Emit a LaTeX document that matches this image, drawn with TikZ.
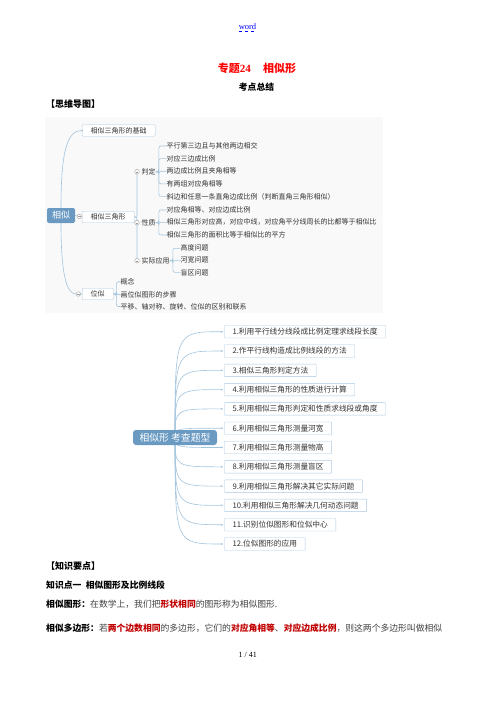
\documentclass[tikz,border=0pt]{standalone}
\usepackage{fontspec}
\setmainfont{Liberation Serif}
\newfontfamily\cjk{Noto Sans CJK SC}
\usetikzlibrary{backgrounds}

\definecolor{mapline}{HTML}{A3C4DD}
\definecolor{boxline}{HTML}{A9C8E2}
\definecolor{rootfill}{HTML}{6A9AC2}
\definecolor{maptext}{HTML}{333333}
\definecolor{foldc}{HTML}{A0A0A0}
\definecolor{mapbg}{HTML}{F9F9F9}
\definecolor{bodygray}{HTML}{404040}
\definecolor{darkred}{HTML}{C00000}

\tikzset{
  every node/.style={inner sep=0pt},
  link/.style={draw=mapline, line width=0.6pt},
  rootbox/.style={fill=rootfill, text=white, rounded corners=2pt,
    minimum height=15pt, font=\cjk\fontsize{9}{9}\selectfont},
  topic/.style={draw=boxline, fill=white, rounded corners=1pt, anchor=west,
    text=maptext, minimum height=11.5pt, inner xsep=8.5pt,
    font=\cjk\fontsize{7}{7}\selectfont},
  leaf/.style={anchor=west, text=maptext, font=\cjk\fontsize{7}{7}\selectfont},
  fold/.style={circle, draw=foldc, fill=white, minimum size=4.6pt,
    path picture={\draw[foldc, line width=0.4pt]
      ([xshift=1pt]path picture bounding box.west) --
      ([xshift=-1pt]path picture bounding box.east);}},
  qtype/.style={draw=boxline, fill=white, rounded corners=0.5pt, anchor=west,
    text=maptext, minimum height=12.5pt, inner xsep=8pt,
    font=\cjk\fontsize{7.7}{7.7}\selectfont},
  body/.style={anchor=west, font=\cjk\fontsize{8.8}{8.8}\selectfont}
}

\begin{document}
\begin{tikzpicture}[x=1pt, y=-1pt]
  \useasboundingbox (0,0) rectangle (496,702);

  % header
  \node[text=blue, font=\fontsize{8.5}{8.5}\selectfont] (wd) at (247.5,27) {word};
  \draw[blue, dashed, line width=0.5pt] ([yshift=-1.5pt]wd.south west) -- ([yshift=-1.5pt]wd.south east);
  \node[text=red, font=\cjk\bfseries\fontsize{11}{11}\selectfont] (zt) at (257,68)
    {专题{\rmfamily\bfseries 24}\hspace{1.1em}相似形};
  \node[font=\cjk\bfseries\fontsize{8.8}{8.8}\selectfont] (kd) at (256.5,87.5) {考点总结};
  \node[body, font=\cjk\bfseries\fontsize{9}{9}\selectfont] (sw) at (46,104) {【思维导图】};

  % mind map 1
  \node[rootbox, minimum width=28pt] (xs) at (61,215.5) {相似};
  \node[topic] (jc) at (82,130.5) {相似三角形的基础};
  \node[topic] (sjx) at (82,217) {相似三角形};
  \node[topic] (ws) at (82,294) {位似};

  \node[fold] (f1) at (79.3,216.5) {};
  \node[fold] (f2) at (78.3,294) {};
  \node[fold] (fpd) at (137,171.7) {};
  \node[fold] (fxz) at (137,222.7) {};
  \node[fold] (fsy) at (137,260.7) {};

  \node[leaf] (pd) at (141.5,171.7) {判定};
  \node[leaf] (xz) at (141.5,222.7) {性质};
  \node[leaf] (sy) at (141.5,260.7) {实际应用};

  \foreach \t [count=\i] in {平行第三边且与其他两边相交, 对应三边成比例,
      两边成比例且夹角相等, 有两组对应角相等,
      斜边和任意一条直角边成比例（判断直角三角形相似）}
    \node[leaf] (pd\i) at (166.5,{146+12.6*(\i-1)}) {\t};
  \node[leaf] (xz1) at (166.5,210) {对应角相等、对应边成比例};
  \node[leaf] (xz2) at (166.5,222.3) {相似三角形对应高，对应中线，对应角平分线周长的比都等于相似比};
  \node[leaf] (xz3) at (166.5,235) {相似三角形的面积比等于相似比的平方};
  \node[leaf] (sy1) at (180.5,248.3) {高度问题};
  \node[leaf] (sy2) at (180.5,260.3) {河宽问题};
  \node[leaf] (sy3) at (180.5,272.3) {盲区问题};
  \node[leaf] (ws1) at (120.5,281.7) {概念};
  \node[leaf] (ws2) at (120.5,294.5) {画位似图形的步骤};
  \node[leaf] (ws3) at (120.5,306.5) {平移、轴对称、旋转、位似的区别和联系};

  \begin{scope}[on background layer]
    \fill[mapbg] (45,117) rectangle (383,313);
    \draw[link] (xs.north) .. controls +(0,-60) and +(-14,0) .. (jc.west);
    \draw[link] (xs.east) -- (sjx.west);
    \draw[link] (xs.south) .. controls +(0,50) and +(-12,0) .. (f2) -- (ws.west);
    \draw[link, rounded corners=2pt] (sjx.east) -| (fpd);
    \draw[link, rounded corners=2pt] (sjx.east) -| (fsy);
    \foreach \i in {1,...,5}
      \draw[link, rounded corners=2pt] (pd.east) -- ++(3,0) |- (pd\i.west);
    \foreach \i in {1,2,3}
      \draw[link, rounded corners=2pt] (xz.east) -- ++(3,0) |- (xz\i.west);
    \foreach \i in {1,2,3}
      \draw[link, rounded corners=2pt] (sy.east) -- ++(3,0) |- (sy\i.west);
    \foreach \i in {1,2,3}
      \draw[link, rounded corners=2pt] (ws.east) -- ++(3,0) |- (ws\i.west);
  \end{scope}
  \fill[mapline] (jc.west) circle (1pt);

  % mind map 2
  \node[rootbox, minimum width=84pt, rounded corners=3pt,
    font=\cjk\fontsize{9.8}{9.8}\selectfont] (kc) at (175,437.5) {相似形 考查题型};
  \foreach \t [count=\i] in {1.利用平行线分线段成比例定理求线段长度,
      2.作平行线构造成比例线段的方法, 3.相似三角形判定方法,
      4.利用相似三角形的性质进行计算, 5.利用相似三角形判定和性质求线段或角度,
      6.利用相似三角形测量河宽, 7.利用相似三角形测量物高,
      8.利用相似三角形测量盲区, 9.利用相似三角形解决其它实际问题,
      10.利用相似三角形解决几何动态问题, 11.识别位似图形和位似中心,
      12.位似图形的应用}
    \node[qtype] (t\i) at (224.3,{331.7+19.3*(\i-1)}) {\t};
  \begin{scope}[on background layer]
    \foreach \i in {1,...,12}
      \draw[link] (kc.center) .. controls (kc.center |- t\i.west) .. ([xshift=-2.5pt]t\i.west);
  \end{scope}
  \foreach \i in {1,...,12}
    \fill[mapline] ([xshift=-2.5pt]t\i.west) circle (1pt);

  % text below
  \node[body, font=\cjk\bfseries\fontsize{9}{9}\selectfont] (zy) at (46,566) {【知识要点】};
  \node[body, font=\cjk\bfseries\fontsize{8.8}{8.8}\selectfont] (zsd) at (46,585)
    {知识点一\hspace{0.5em}相似图形及比例线段};
  \node[body] (xstx) at (46,604) {{\bfseries 相似图形：}{\color{bodygray}在数学上，我们把}{\color{darkred}\bfseries 形状相同}{\color{bodygray}的图形称为相似图形.}};
  \node[body] (xsdb) at (46,628) {{\bfseries 相似多边形：}{\color{bodygray}若}{\color{darkred}\bfseries 两个边数相同}{\color{bodygray}的多边形，它们的}{\color{darkred}\bfseries 对应角相等}{\color{bodygray}、}{\color{darkred}\bfseries 对应边成比例}{\color{bodygray}，则这两个多边形叫做相似}};
  \node[font=\fontsize{8}{8}\selectfont] (ym) at (247.7,655) {1 / 41};
\end{tikzpicture}
\end{document}
